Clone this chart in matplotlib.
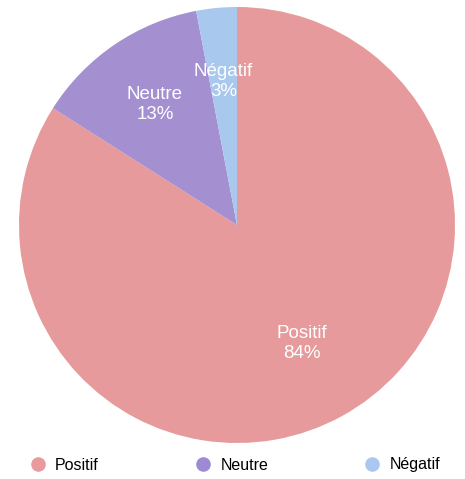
import numpy as np
import matplotlib
matplotlib.use("Agg")
import matplotlib.pyplot as plt
from matplotlib.lines import Line2D

categories = ["Positif", "Neutre", "Négatif"]
values = [84, 13, 3]
colors = ["#e69a9b", "#a48fd0", "#a9c8ee"]
legend_colors = ["#e89a9d", "#9e8ad2", "#a9c7f0"]

plt.rcParams['font.family'] = ['Liberation Sans', 'DejaVu Sans']

fig = plt.figure(figsize=(4.65, 4.79), dpi=100)
ax = fig.add_axes([19/465, 36/479, 436/465, 436/479])
wedges, _ = ax.pie(values, colors=colors, startangle=90, counterclock=False,
                   radius=1, wedgeprops=dict(linewidth=0))
ax.set_xlim(-1, 1)
ax.set_ylim(-1, 1)
ax.set_aspect('equal')
ax.axis('off')

dists = [0.62, 0.67, 0.66]
for w, name, v, d in zip(wedges, categories, values, dists):
    ang = np.deg2rad((w.theta1 + w.theta2) / 2)
    ax.text(d*np.cos(ang), d*np.sin(ang), f"{name}\n{v}%", ha='center', va='center',
            color='white', fontsize=13.5, linespacing=1.25)

handles = [Line2D([], [], marker='o', linestyle='none', markersize=10.5,
                  markerfacecolor=c, markeredgecolor='none') for c in legend_colors]
fig.legend(handles, categories, loc='center left', bbox_to_anchor=(28/465, 1-465/479),
           borderaxespad=0, borderpad=0,
           ncol=3, frameon=False, fontsize=11.5, columnspacing=5.9,
           handletextpad=0.5, handlelength=1.2)

fig.savefig("out.png", dpi=100, facecolor='white')
